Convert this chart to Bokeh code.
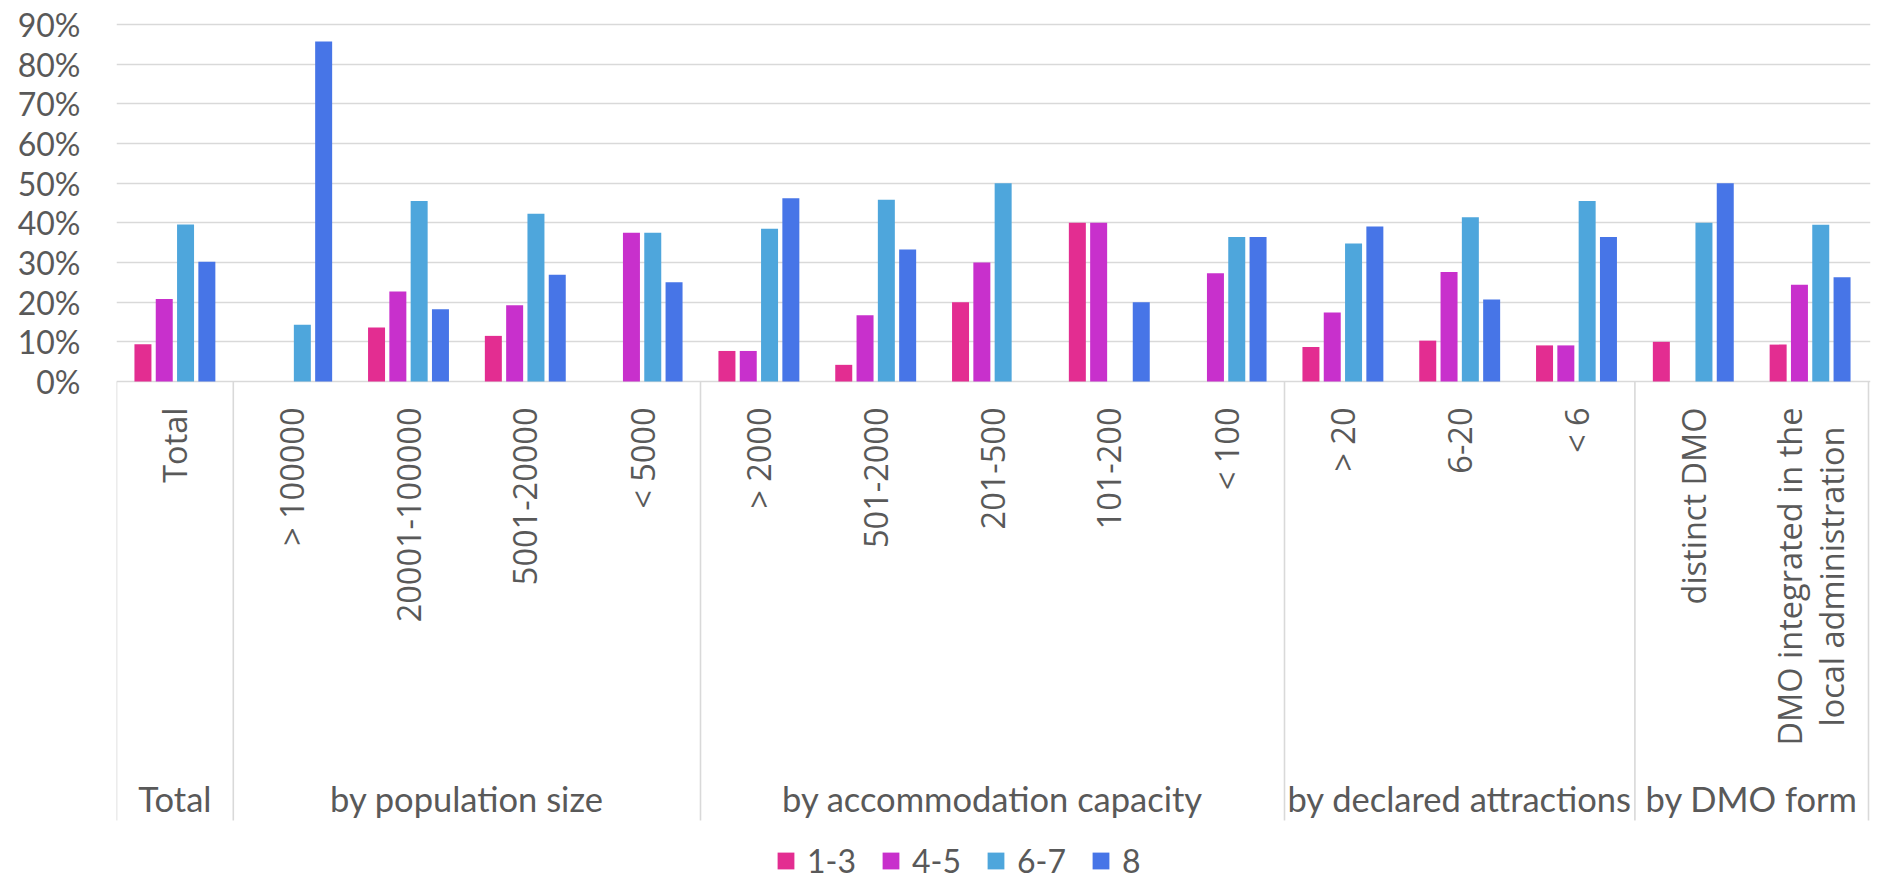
import math
from bokeh.plotting import figure
from bokeh.models import Range1d, FixedTicker, ColumnDataSource, Legend, LegendItem
from bokeh.core.properties import value
from bokeh.embed import file_html
from bokeh.resources import INLINE

# ---------------- data ----------------
groups = ["Total", "by population size", "by accommodation capacity",
          "by declared attractions", "by DMO form"]
group_sizes = [1, 4, 5, 3, 2]
subcats = ["Total", "> 100000", "20001-100000", "5001-20000", "< 5000",
           "> 2000", "501-2000", "201-500", "101-200", "< 100",
           "> 20", "6-20", "< 6", "distinct DMO",
           "DMO integrated in the\nlocal administration"]
series_names = ["1-3", "4-5", "6-7", "8"]
s_1_3 = [9.4, 0, 13.6, 11.5, 0, 7.7, 4.2, 20.0, 40.0, 0, 8.7, 10.3, 9.1, 10.0, 9.3]
s_4_5 = [20.8, 0, 22.7, 19.2, 37.5, 7.7, 16.7, 30.0, 40.0, 27.3, 17.4, 27.6, 9.1, 0, 24.4]
s_6_7 = [39.6, 14.3, 45.5, 42.3, 37.5, 38.5, 45.8, 50.0, 0, 36.4, 34.8, 41.4, 45.5, 40.0, 39.5]
s_8 = [30.2, 85.7, 18.2, 26.9, 25.0, 46.2, 33.3, 0, 20.0, 36.4, 39.1, 20.7, 36.4, 50.0, 26.3]
y_ticks = [0, 0.1, 0.2, 0.3, 0.4, 0.5, 0.6, 0.7, 0.8, 0.9]
y_tick_labels = ["0%", "10%", "20%", "30%", "40%", "50%", "60%", "70%", "80%", "90%"]

colors = ["#E32D91", "#C830CC", "#4EA6DC", "#4775E7"]
TXT = "#595959"
GRID = "#D9D9D9"

# ---------------- layout helpers ----------------
W, H = 1878, 880
TOP, LEFT, RIGHT = 22, 116, 8
Y0_PX = 381.0            # pixel row of 0%
PX_PER_UNIT = 396.7      # pixels per 100%
def py(px):
    return (Y0_PX - px) / PX_PER_UNIT

y_start = py(H)
y_end = py(TOP)
n = len(subcats)
x_end = n + 2 / 116.8

p = figure(width=W, height=H, output_backend="svg", toolbar_location=None,
           x_range=Range1d(0, x_end), y_range=Range1d(y_start, y_end),
           x_axis_location=None, min_border_left=LEFT, min_border_right=RIGHT,
           min_border_top=TOP, min_border_bottom=0)
p.outline_line_color = None
p.xgrid.visible = False
p.ygrid.ticker = FixedTicker(ticks=y_ticks)
p.ygrid.grid_line_color = GRID
p.ygrid.grid_line_width = 1.6

ax = p.yaxis[0]
ax.ticker = FixedTicker(ticks=y_ticks)
ax.major_label_overrides = {t: l for t, l in zip(y_ticks, y_tick_labels)}
ax.axis_line_color = None
ax.major_tick_line_color = None
ax.minor_tick_line_color = None
ax.major_tick_out = 0
ax.major_tick_in = 0
ax.major_label_standoff = 36
ax.major_label_text_font = "Lato"
ax.major_label_text_font_size = "32px"
ax.major_label_text_color = TXT

# ---------------- bars ----------------
pitch = 0.1824
bw = 0.1455
series = [s_1_3, s_4_5, s_6_7, s_8]
renderers = []
for k, (vals, col) in enumerate(zip(series, colors)):
    off = (k - 1.5) * pitch
    src = ColumnDataSource(dict(x=[i + 0.5 + off for i in range(n)],
                                top=[v / 100 for v in vals]))
    r = p.vbar(x="x", top="top", bottom=0, width=bw, source=src,
               fill_color=col, line_color=None)
    renderers.append(r)

# ---------------- category dividers ----------------
bounds = [0]
for s in group_sizes:
    bounds.append(bounds[-1] + s)
p.segment(x0=bounds, y0=[0] * len(bounds), x1=bounds, y1=[py(820)] * len(bounds),
          line_color=GRID, line_width=1.6)

# ---------------- subcategory labels (rotated) ----------------
sx, sy, st = [], [], []
mx, mt, mo = [], [], []
for i, lab in enumerate(subcats):
    lines = lab.split("\n")
    if len(lines) == 1:
        sx.append(i + 0.5); sy.append(py(407)); st.append(lab)
    else:
        m = len(lines)
        for j, ln in enumerate(lines):
            mx.append(i + 0.5); mt.append(ln); mo.append((j - (m - 1) / 2) * 42)
p.text(x=sx, y=sy, text=st, angle=math.pi / 2, text_align="right",
       text_baseline="middle", text_font=value("Open Sans"),
       text_font_size=value("32.5px"), text_color=TXT)
if mx:
    p.text(x=mx, y=[py(576)] * len(mx), text=mt, x_offset=mo, angle=math.pi / 2,
           text_align="center", text_baseline="middle", text_font=value("Open Sans"),
           text_font_size=value("32.5px"), text_color=TXT)

# ---------------- group labels ----------------
gx = [(bounds[i] + bounds[i + 1]) / 2 for i in range(len(groups))]
p.text(x=gx, y=[py(798)] * len(gx), text=groups, text_align="center",
       text_baseline="middle", text_font=value("Lato"),
       text_font_size=value("34.5px"), text_color=TXT)

# ---------------- legend ----------------
legend = Legend(items=[LegendItem(label=nm, renderers=[r]) for nm, r in zip(series_names, renderers)],
                orientation="horizontal", location=(659, 0))
legend.glyph_width = 21
legend.glyph_height = 21
legend.label_standoff = 11
legend.spacing = 24
legend.padding = 0
legend.margin = 0
legend.border_line_color = None
legend.background_fill_alpha = 0
legend.label_text_font = "Lato"
legend.label_text_font_size = "32px"
legend.label_text_color = TXT
p.add_layout(legend, "center")

open("out.html", "w").write(file_html(p, INLINE))
